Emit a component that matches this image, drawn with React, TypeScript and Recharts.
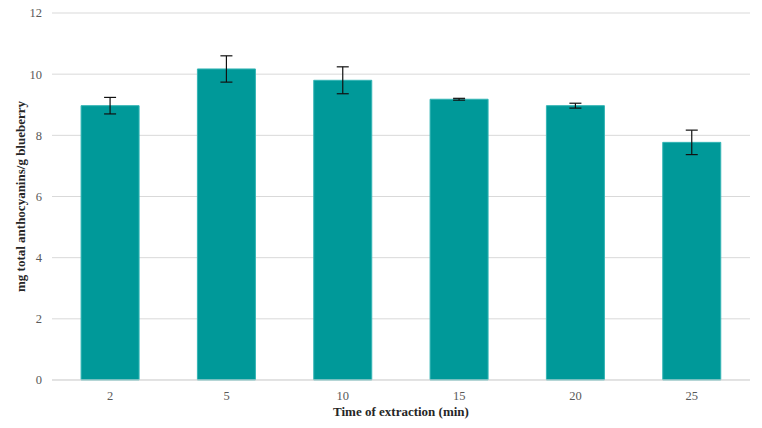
import { BarChart, Bar, XAxis, YAxis, CartesianGrid, ErrorBar, Label } from "recharts";

const times = ["2", "5", "10", "15", "20", "25"];
const anthocyanins = [8.97, 10.17, 9.8, 9.18, 8.97, 7.77];
const errors = [0.27, 0.43, 0.44, 0.03, 0.08, 0.4];
const yTicks = [0, 2, 4, 6, 8, 10, 12];

const data = times.map((t, i) => ({ time: t, value: anthocyanins[i], err: errors[i] }));

const font = "'Liberation Serif', 'DejaVu Serif', serif";

export default function App() {
  return (
    <div style={{ position: "absolute", left: 0, top: 0, width: 762, height: 428, background: "#fff" }}>
      <BarChart
        width={762}
        height={428}
        data={data}
        margin={{ top: 13, right: 12, bottom: 0, left: 0 }}
        barCategoryGap="25%"
        style={{ fontFamily: font }}
      >
        <CartesianGrid vertical={false} stroke="#d9d9d9" strokeWidth={1} />
        <XAxis
          dataKey="time"
          height={48}
          tickLine={false}
          axisLine={{ stroke: "#d9d9d9" }}
          tick={{ fill: "#595959", fontSize: 12.5, fontFamily: font }}
          tickMargin={5}
        >
          <Label
            value="Time of extraction (min)"
            position="insideBottom"
            offset={12}
            style={{ fontWeight: "bold", fontSize: 13, fill: "#262626", fontFamily: font }}
          />
        </XAxis>
        <YAxis
          width={52}
          domain={[0, 12]}
          ticks={yTicks}
          tickLine={false}
          axisLine={false}
          tick={{ fill: "#595959", fontSize: 12.5, fontFamily: font }}
          tickMargin={4}
        >
          <Label
            value="mg total anthocyanins/g blueberry"
            angle={-90}
            position="insideLeft"
            offset={20}
            style={{ textAnchor: "middle", fontWeight: "bold", fontSize: 13, fill: "#262626", fontFamily: font }}
          />
        </YAxis>
        <Bar dataKey="value" fill="#009999" stroke="#33b5b5" strokeWidth={1} isAnimationActive={false}>
          <ErrorBar dataKey="err" width={6} stroke="#111" strokeWidth={1.2} direction="y" />
        </Bar>
      </BarChart>
    </div>
  );
}
